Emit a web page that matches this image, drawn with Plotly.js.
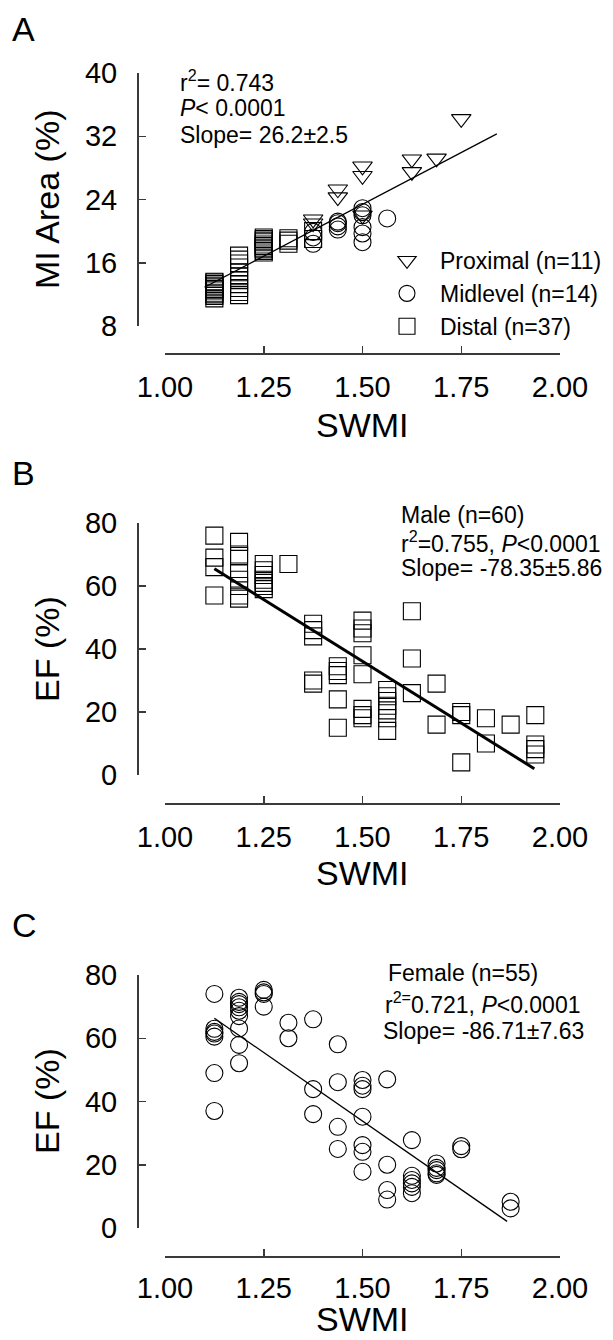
<!DOCTYPE html>
<html><head><meta charset="utf-8">
<script src="https://cdn.plot.ly/plotly-3.0.1.min.js"></script>
<style>html,body{margin:0;padding:0;background:#fff}#chart{width:613px;height:1340px}</style>
</head><body><div id="chart"></div>
<script>
// ---------- Data ----------
const xTickVals = [1.00, 1.25, 1.50, 1.75, 2.00];
const xTickText = ["1.00", "1.25", "1.50", "1.75", "2.00"];
const yTicksA = [8, 16, 24, 32, 40];
const yTicksEF = [0, 20, 40, 60, 80];

// Panel A: MI area vs SWMI
const proxX = [1.375,1.375,1.4375,1.4375,1.5,1.5,1.5,1.625,1.625,1.6875,1.75];
const proxY = [21.5,21.0,25.3,24.3,28.2,27.0,22.0,29.1,27.5,29.2,34.2];
const midX = [1.375,1.375,1.375,1.4375,1.4375,1.4375,1.4375,1.5,1.5,1.5,1.5,1.5,1.5,1.5625];
const midY = [18.4,19.2,19.9,20.2,20.6,21.0,21.2,18.6,19.7,20.5,22.0,22.4,22.9,21.6];
const distX = [1.125,1.125,1.125,1.125,1.125,1.125,1.125,1.125,1.125,1.125,1.125,
               1.1875,1.1875,1.1875,1.1875,1.1875,1.1875,1.1875,1.1875,1.1875,1.1875,1.1875,
               1.25,1.25,1.25,1.25,1.25,1.25,1.25,1.25,1.25,1.25,
               1.3125,1.3125,1.3125,
               1.375,1.375];
const distY = [11.5,11.8,12.0,12.2,12.5,12.7,12.9,13.1,13.3,13.5,13.6,
               11.9,12.3,12.8,13.3,13.8,14.3,14.8,15.4,15.9,16.4,16.9,
               17.3,17.5,17.7,17.9,18.1,18.3,18.6,18.8,19.0,19.2,
               18.4,18.8,19.1,
               19.0,20.0];
const fitAX = [1.10, 1.84];
const fitAY = [12.9, 32.3];

// Panel B: EF vs SWMI, male
const maleX = [1.125,1.125,1.125,1.125,
  1.1875,1.1875,1.1875,1.1875,1.1875,1.1875,1.1875,1.1875,
  1.25,1.25,1.25,1.25,1.25,1.25,1.25,
  1.3125,
  1.375,1.375,1.375,1.375,1.375,
  1.4375,1.4375,1.4375,1.4375,1.4375,
  1.5,1.5,1.5,1.5,1.5,1.5,1.5,1.5,
  1.5625,1.5625,1.5625,1.5625,1.5625,1.5625,1.5625,
  1.625,1.625,1.625,
  1.6875,1.6875,
  1.75,1.75,1.75,
  1.8125,1.8125,
  1.875,
  1.9375,1.9375,1.9375,1.9375];
const maleY = [76,69,66,57,
  74,70,69.5,64,62,60,57,56,
  67,65,63.5,62,61,60,59,
  67,
  48,46,44,30,29,
  34.5,33,31.7,24,15,
  49,46.5,45,38,32,21,19,18,
  27,25,23.5,22,20.5,18,14,
  52,37,26,
  29,16,
  20,19,4,
  18,10,
  16,
  19,9.7,8.2,6.5];
const fitBX = [1.125, 1.935];
const fitBY = [65.5, 2.0];

// Panel C: EF vs SWMI, female
const femX = [1.125,1.125,1.125,1.125,1.125,1.125,1.125,
  1.1875,1.1875,1.1875,1.1875,1.1875,1.1875,1.1875,1.1875,1.1875,
  1.25,1.25,1.25,1.25,
  1.3125,1.3125,
  1.375,1.375,1.375,
  1.4375,1.4375,1.4375,1.4375,
  1.5,1.5,1.5,1.5,1.5,1.5,1.5,
  1.5625,1.5625,1.5625,1.5625,
  1.625,1.625,1.625,1.625,1.625,1.625,
  1.6875,1.6875,1.6875,1.6875,1.6875,
  1.75,1.75,
  1.875,1.875];
const femY = [74,63,62,61.5,60.5,49,37,
  72.8,71.5,70.8,69.8,68.7,67,63.1,57.9,52.1,
  75.3,74.5,74.0,70.0,
  64.9,60,
  66,43.9,36,
  58.1,46.1,32,25,
  46.8,45,43.9,35.2,26.2,24.1,17.8,
  47,20,12,9,
  27.8,16.5,15.2,14.1,13,11,
  20.4,19,18.3,17.3,16.8,
  25.9,24.9,
  8.3,6.2];
const fitCX = [1.125, 1.866];
const fitCY = [66.3, 2.1];

// ---------- Layout helpers ----------
const W = 613, H = 1340;
const px = v => v / W;
const py = v => 1 - v / H;
const FONT = "Liberation Sans, Arial, Helvetica, sans-serif";
const AX = "#3a3a3a";

function xAxis(linePy, standoff) {
  return {
    domain: [px(165), px(560)], range: [1, 2], anchor: "free", position: py(linePy),
    showline: true, linecolor: AX, linewidth: 1.5,
    ticks: "inside", ticklen: 7, tickwidth: 1.5, tickcolor: AX,
    tickvals: xTickVals, ticktext: xTickText,
    showgrid: false, zeroline: false, fixedrange: true,
    tickfont: { family: FONT, size: 29, color: "#000" },
    ticklabelstandoff: standoff
  };
}
function yAxis(topPy, botPy, range, ticks) {
  return {
    domain: [py(botPy), py(topPy)], range: range, anchor: "free", position: px(137),
    showline: true, linecolor: AX, linewidth: 1.5,
    ticks: "inside", ticklen: 7, tickwidth: 1.5, tickcolor: AX,
    tickvals: ticks, showgrid: false, zeroline: false, fixedrange: true,
    tickfont: { family: FONT, size: 29, color: "#000" },
    ticklabelstandoff: 14
  };
}

const mk = (sym) => ({ symbol: sym, size: 17, color: "rgba(0,0,0,0)", line: { color: "#000", width: 1.1 } });

const traces = [
  { x: proxX, y: proxY, type: "scatter", mode: "markers", name: "Proximal (n=11)", marker: mk("triangle-down"), xaxis: "x", yaxis: "y", cliponaxis: false },
  { x: midX, y: midY, type: "scatter", mode: "markers", name: "Midlevel (n=14)", marker: mk("circle"), xaxis: "x", yaxis: "y", cliponaxis: false },
  { x: distX, y: distY, type: "scatter", mode: "markers", name: "Distal (n=37)", marker: mk("square"), xaxis: "x", yaxis: "y", cliponaxis: false },
  { x: fitAX, y: fitAY, type: "scatter", mode: "lines", line: { color: "#000", width: 1.3 }, showlegend: false, xaxis: "x", yaxis: "y", cliponaxis: false },
  { x: maleX, y: maleY, type: "scatter", mode: "markers", marker: mk("square"), showlegend: false, xaxis: "x2", yaxis: "y2", cliponaxis: false },
  { x: fitBX, y: fitBY, type: "scatter", mode: "lines", line: { color: "#000", width: 3 }, showlegend: false, xaxis: "x2", yaxis: "y2", cliponaxis: false },
  { x: femX, y: femY, type: "scatter", mode: "markers", marker: mk("circle"), showlegend: false, xaxis: "x3", yaxis: "y3", cliponaxis: false },
  { x: fitCX, y: fitCY, type: "scatter", mode: "lines", line: { color: "#000", width: 1.3 }, showlegend: false, xaxis: "x3", yaxis: "y3", cliponaxis: false }
];

function txt(text, xp, yp, size, opts) {
  return Object.assign({
    text: text, xref: "paper", yref: "paper", x: px(xp), y: py(yp),
    xanchor: "left", yanchor: "middle", showarrow: false,
    font: { family: FONT, size: size, color: "#000" }
  }, opts || {});
}

const annotations = [
  // panel letters
  txt("A", 10, 29, 34),
  txt("B", 10, 473, 34),
  txt("C", 10, 925, 34),
  // axis titles
  txt("SWMI", 362, 425, 34, { xanchor: "center" }),
  txt("SWMI", 362, 873, 34, { xanchor: "center" }),
  txt("SWMI", 362, 1340, 34, { xanchor: "center", yanchor: "bottom" }),
  txt("MI Area (%)", 47, 200, 34, { xanchor: "center", textangle: -90 }),
  txt("EF (%)", 47, 649, 34, { xanchor: "center", textangle: -90 }),
  txt("EF (%)", 47, 1101, 34, { xanchor: "center", textangle: -90 }),
  // panel A stats
  txt("r<sup>2</sup>= 0.743", 178, 81, 23),
  txt("<i>P</i>< 0.0001", 178, 108, 23),
  txt("Slope= 26.2±2.5", 178, 135, 23),
  // panel B stats
  txt("Male (n=60)", 399, 515, 23),
  txt("r<sup>2</sup>=0.755, <i>P</i><0.0001", 399, 542, 23),
  txt("Slope= -78.35±5.86", 399, 568, 23),
  // panel C stats
  txt("Female (n=55)", 386, 973, 23),
  txt("r<sup>2=</sup>0.721, <i>P</i><0.0001", 383, 1003, 23),
  txt("Slope= -86.71±7.63", 381, 1031, 23)
];

const layout = {
  width: W, height: H, margin: { l: 0, r: 0, t: 0, b: 0 },
  paper_bgcolor: "#fff", plot_bgcolor: "rgba(0,0,0,0)",
  font: { family: FONT, color: "#000" },
  showlegend: true,
  legend: { x: px(374), xanchor: "left", y: py(239), yanchor: "top",
            font: { family: FONT, size: 23, color: "#000" }, bgcolor: "rgba(0,0,0,0)",
            borderwidth: 0, tracegroupgap: 0, itemwidth: 56 },
  xaxis: xAxis(353, 8), yaxis: yAxis(73, 326, [8, 40], yTicksA),
  xaxis2: xAxis(803, 8), yaxis2: yAxis(523, 775, [0, 80], yTicksEF),
  xaxis3: xAxis(1256, 6), yaxis3: yAxis(975, 1228, [0, 80], yTicksEF),
  annotations: annotations
};

Plotly.newPlot("chart", traces, layout, { staticPlot: true, displayModeBar: false });
</script>
</body></html>
